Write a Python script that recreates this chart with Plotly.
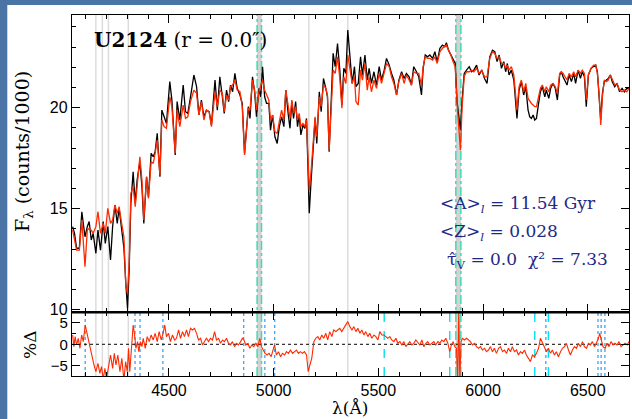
import plotly.graph_objects as go

# ---------------- data ----------------
wave = [4040,4049,4059,4072,4084,4099,4110,4119,4129,4138,
        4151,4161,4173,4186,4196,4208,4221,4231,4242,4253,
        4262,4274,4285,4294,4302,4310,4318,4329,4339,4348,
        4361,4371,4380,4393,4402,4415,4425,4434,4444,4457,
        4466,4477,4488,4504,4514,4530,4539,4552,4568,4579,
        4590,4603,4619,4632,4643,4655,4667,4679,4692,4703,
        4720,4731,4743,4755,4764,4775,4785,4794,4804,4815,
        4826,4839,4850,4861,4871,4879,4887,4899,4909,4918,
        4930,4938,4947,4957,4966,4977,4985,4995,5006,5017,
        5027,5038,5049,5058,5070,5078,5087,5095,5105,5114,
        5122,5130,5140,5149,5157,5165,5170,5178,5189,5198,
        5206,5218,5227,5238,5249,5257,5265,5275,5284,5294,
        5305,5316,5326,5335,5345,5354,5364,5375,5386,5393,
        5404,5415,5424,5436,5447,5456,5467,5479,5491,5504,
        5515,5528,5539,5552,5563,5574,5587,5598,5611,5623,
        5634,5647,5658,5669,5682,5693,5706,5714,5724,5735,
        5746,5759,5770,5781,5794,5806,5817,5825,5835,5846,
        5857,5867,5876,5884,5892,5900,5910,5921,5934,5945,
        5956,5969,5981,5994,6007,6019,6032,6045,6056,6067,
        6077,6088,6099,6108,6116,6124,6135,6147,6156,6162,
        6172,6183,6194,6204,6215,6223,6231,6239,6247,6255,
        6264,6274,6283,6295,6302,6314,6323,6334,6345,6355,
        6366,6374,6382,6392,6401,6411,6422,6433,6442,6454,
        6465,6474,6484,6493,6503,6516,6528,6538,6546,6554,
        6562,6570,6579,6589,6598,6608,6617,6629,6640,6652,
        6664,6675,6686,6697]

observed = [14.11,13.78,13.04,13.04,14.85,13.61,14.11,14.36,13.45,13.78,
            12.79,13.94,12.95,14.36,13.28,14.11,12.46,14.11,15.18,14.27,
            15.02,13.86,13.04,11.30,10.07,11.96,15.26,16.83,15.26,16.42,
            17.33,16.09,14.27,16.58,15.59,17.74,17.57,17.82,18.73,16.58,
            19.88,19.55,19.22,21.29,20.38,17.66,20.30,19.39,21.12,19.80,
            19.72,20.54,21.62,21.04,19.64,20.38,19.55,19.88,19.80,19.14,
            21.37,19.88,21.53,20.54,19.72,20.87,20.30,21.12,20.79,21.70,
            20.96,20.63,20.21,17.74,19.31,20.05,19.47,21.53,20.79,19.55,
            20.96,20.54,22.03,20.54,20.21,20.21,18.89,19.64,18.56,18.23,
            19.06,19.55,19.06,20.87,19.64,18.98,20.30,19.47,20.30,19.06,
            19.64,18.65,19.14,18.98,19.47,16.58,14.77,16.25,17.90,19.47,
            18.23,20.79,19.80,21.45,20.96,20.54,17.82,20.30,22.69,22.03,
            23.18,21.86,20.13,21.95,21.70,23.84,22.36,21.20,22.03,21.04,
            21.20,22.52,21.62,22.61,21.37,21.95,21.20,21.78,21.12,22.03,
            21.37,21.86,22.44,22.11,21.70,21.37,20.63,21.37,21.78,21.45,
            21.70,21.53,21.12,22.03,21.78,21.53,20.63,21.95,22.61,22.52,
            22.61,22.44,22.77,22.28,22.94,23.10,23.02,23.22,22.85,22.61,
            22.36,22.19,20.30,19.72,18.89,20.38,21.70,21.86,22.03,21.78,
            21.86,22.11,21.62,21.86,21.45,21.20,22.52,22.85,22.77,22.28,
            22.61,21.95,22.28,21.78,22.19,21.62,21.86,21.37,20.30,19.47,
            20.87,21.29,20.63,21.04,19.88,19.55,19.47,19.64,19.39,19.47,
            20.13,20.79,21.04,20.54,20.87,20.46,20.96,21.20,20.96,20.38,
            21.62,21.78,21.53,21.29,21.12,21.62,21.29,21.70,21.20,21.86,
            21.45,21.78,21.53,20.05,21.62,21.95,22.03,22.11,21.78,20.79,
            19.39,20.71,21.29,21.37,21.45,21.62,21.29,21.04,21.20,20.79,
            20.96,20.79,20.96,20.96]

model = [13.94,13.45,12.95,12.95,14.44,12.13,13.94,14.03,13.94,13.78,
         14.11,14.85,13.78,14.27,13.78,15.02,14.27,14.44,15.18,14.77,
         15.10,14.27,13.61,11.14,10.81,12.29,15.76,16.09,15.10,16.09,
         17.57,16.42,14.44,16.58,15.51,17.33,17.24,17.74,18.40,16.67,
         19.39,19.06,18.98,20.54,20.05,17.74,19.88,19.06,20.13,19.47,
         19.55,20.30,20.87,20.71,19.64,20.30,19.39,19.88,19.80,19.06,
         20.79,20.05,20.87,20.71,19.80,20.63,20.38,21.04,21.12,21.37,
         20.87,20.79,20.05,17.66,19.22,19.97,19.88,21.37,20.87,19.88,
         20.79,21.04,21.37,20.87,20.63,20.38,19.39,19.64,18.81,18.73,
         19.31,19.88,19.39,20.87,20.05,19.47,20.38,19.72,20.05,19.39,
         19.72,19.06,19.22,19.06,19.39,17.24,15.92,16.75,18.07,19.55,
         18.56,20.54,20.05,21.12,20.96,20.63,17.90,19.88,21.86,21.70,
         22.52,21.45,19.97,21.53,21.20,22.61,21.86,21.20,21.53,20.30,
         20.13,21.86,21.37,22.19,20.87,21.53,20.79,21.37,20.96,21.70,
         21.20,21.70,22.19,22.03,21.53,21.20,20.63,21.29,21.70,21.20,
         21.62,21.37,21.12,21.78,21.70,21.70,21.12,22.03,22.52,22.44,
         22.44,22.36,22.52,22.19,22.77,22.94,23.02,23.10,22.85,22.61,
         22.28,22.03,20.21,19.06,17.90,20.05,21.53,21.78,21.78,21.86,
         21.78,21.95,21.70,21.86,21.53,21.53,22.44,22.77,22.69,22.44,
         22.52,22.19,22.19,21.95,22.11,21.86,22.03,21.62,20.38,19.88,
         21.04,21.37,20.79,21.20,20.46,20.30,20.21,20.13,20.05,20.05,
         20.54,20.96,21.12,20.79,21.04,20.79,21.12,21.20,21.04,20.71,
         21.70,21.78,21.70,21.53,21.37,21.70,21.53,21.78,21.53,21.86,
         21.70,21.86,21.70,20.38,21.62,21.95,22.11,22.11,21.70,20.71,
         19.14,20.54,21.37,21.29,21.37,21.62,21.37,21.12,21.20,20.87,
         20.79,20.87,20.79,20.96]

res_wave = [4040,4046,4052,4059,4067,4075,4083,4091,4100,4107,
            4115,4122,4132,4142,4151,4161,4170,4178,4186,4194,
            4202,4212,4221,4231,4239,4247,4256,4266,4275,4285,
            4293,4301,4307,4313,4321,4329,4336,4342,4350,4356,
            4364,4371,4377,4387,4396,4406,4415,4425,4434,4444,
            4453,4463,4472,4480,4488,4498,4507,4517,4527,4536,
            4546,4555,4565,4574,4584,4593,4603,4612,4622,4632,
            4641,4651,4660,4670,4679,4689,4698,4708,4718,4727,
            4737,4746,4756,4765,4775,4784,4794,4803,4813,4823,
            4832,4842,4851,4858,4867,4877,4886,4896,4905,4915,
            4924,4934,4942,4950,4959,4969,4978,4988,4998,5004,
            5013,5023,5033,5042,5052,5061,5071,5080,5090,5099,
            5109,5118,5128,5138,5147,5157,5165,5173,5182,5192,
            5201,5211,5220,5230,5239,5249,5258,5268,5278,5287,
            5297,5306,5316,5325,5335,5344,5354,
            5364,5374,5383,5393,5402,5412,5421,5431,5440,5450,
            5459,5469,5479,5488,5498,5507,5517,5526,5536,5545,
            5555,5564,5574,5584,5593,5603,5612,5622,5631,5641,
            5650,5660,5669,5679,5689,5698,5708,5717,5727,5736,
            5746,5755,5765,5774,5784,5794,5803,5813,5822,5832,
            5841,5849,5857,5865,5873,5879,5884,5889,5895,5902,
            5911,5921,5930,5940,5949,5959,5969,5978,5988,5997,
            6007,6016,6026,6035,6045,6054,6064,6074,6083,6093,
            6102,6112,6121,6131,6140,6150,6160,6169,6179,6188,
            6198,6207,6217,6226,6236,6245,6255,6265,6274,6284,
            6293,6303,6312,6322,6331,6341,6350,6360,6370,6379,
            6389,6398,6408,6417,6427,6436,6446,6455,6465,6475,
            6484,6494,6503,6513,6522,6532,6541,6551,6557,6565,
            6573,6583,6592,6602,6611,6621,6630,6640,6649,6659,
            6669,6678,6688,6697]

residual = [2.18,-0.55,1.79,-0.16,1.40,-0.94,2.18,0.62,4.52,2.96,
            0.62,-0.94,-2.90,-4.85,-6.41,-4.46,-6.80,-5.24,-8.2,-5.63,
            -8.0,-4.46,-2.51,-5.63,-2.12,-4.85,-2.51,-6.41,-3.29,-8.5,
            -4.07,-6.41,-0.94,-6.41,-1.73,4.52,2.18,-0.94,0.62,-1.73,
            0.62,-0.55,1.40,-0.94,1.79,0.62,2.18,1.01,2.57,0.62,
            2.96,1.01,2.57,4.52,1.79,2.57,0.62,2.18,1.01,1.40,
            3.35,1.40,2.96,1.79,3.35,1.79,3.74,3.35,3.74,2.57,
            1.01,1.40,-0.16,0.62,1.40,0.62,1.40,1.01,2.96,1.01,
            1.40,0.23,1.01,0.62,1.40,0.23,-0.16,0.62,-0.55,0.23,
            -0.16,0.62,1.40,1.01,-0.16,0.23,-0.94,-0.16,-0.55,0.23,
            -0.55,1.40,-0.55,-1.34,-2.12,-2.51,-2.12,-2.90,-0.94,-0.16,
            -2.51,-1.73,-2.90,-2.12,-2.51,-1.73,-2.12,-1.34,-2.12,-1.73,
            -1.34,-2.12,-1.73,-2.12,-1.73,-2.51,-6.41,-4.85,-3.29,0.62,
            1.40,1.79,1.01,2.18,1.40,2.57,1.01,2.96,1.79,3.35,
            2.96,3.35,3.74,2.96,3.74,4.52,5.30,
            4.13,3.35,4.13,2.96,3.74,2.57,3.35,2.18,2.96,1.79,
            2.57,1.40,2.18,1.79,1.01,2.96,2.18,2.18,1.79,1.40,
            1.79,1.01,0.62,1.40,0.23,0.62,-0.16,0.62,-0.55,0.23,
            0.62,-0.16,0.23,1.01,0.23,-0.16,1.01,-0.55,0.23,0.62,
            -0.16,0.23,0.62,-0.16,0.62,0.23,1.01,0.62,1.40,0.23,
            -1.73,-0.16,0.62,-0.55,-0.94,-8.5,8.0,-8.5,0.62,1.40,
            1.01,1.40,1.01,0.62,-0.16,0.23,-0.55,-0.94,-0.55,-1.34,
            -0.94,-1.73,-1.34,-0.55,-1.73,-0.94,-2.12,-0.94,-0.55,-1.73,
            -1.34,-2.12,-0.94,-1.73,-0.55,-1.73,-1.34,-2.51,-1.73,-2.12,
            -1.34,-2.51,-3.29,-4.07,-2.51,-2.90,-2.12,-0.94,1.40,0.23,
            -0.55,-1.73,-0.94,-2.12,-1.34,-2.51,-1.73,-2.90,-1.73,-0.94,
            -0.55,0.23,-1.34,-2.51,-1.34,-0.55,-0.94,0.23,-0.55,0.62,
            -0.55,-0.94,0.23,-0.16,0.62,-0.55,0.23,1.40,2.57,0.62,
            -0.55,-0.94,0.23,-0.55,0.62,-0.16,0.23,-0.16,0.62,-0.55,
            -0.16,0.23,-0.16,0.62]

masked_lines = [4151, 4182, 4211, 4306, 5168, 5354]          # grey vertical lines
flagged_bands = [(4921, 4942), (5870, 5894)]                 # grey bands with teal edges
emission_lines = [4100, 4338, 4362, 4471, 4857, 4958, 5005, 6300, 6549, 6564, 6582]
sky_lines = [5528, 5841, 6247, 6312]

x_ticks = [4500, 5000, 5500, 6000, 6500]
main_ticks = [10, 15, 20]
res_ticks = [-5, 0, 5]

title_text = "<b>U2124</b> (r = 0.0″)"
info_lines = ["&lt;A&gt;<sub><i>l</i></sub> = 11.54 Gyr",
              "&lt;Z&gt;<sub><i>l</i></sub> = 0.028",
              "τ̂<sub>V</sub> = 0.0  χ² = 7.33"]

# ---------------- figure ----------------
W, H = 632, 419
ML, MR, MT, MB = 72, 3, 15, 43
split = 0.1765
RED = "#ff2a00"
NAVY = "#1f2a85"
TEAL = "#3ddcb0"

fig = go.Figure()
fig.add_trace(go.Scatter(x=wave, y=observed, mode="lines", xaxis="x2", yaxis="y",
                         line=dict(color="black", width=1.3), showlegend=False))
fig.add_trace(go.Scatter(x=wave, y=model, mode="lines", xaxis="x2", yaxis="y",
                         line=dict(color=RED, width=1.3), showlegend=False))
fig.add_trace(go.Scatter(x=res_wave, y=residual, mode="lines", xaxis="x", yaxis="y2",
                         line=dict(color=RED, width=1.1), showlegend=False))

shapes = []
for w in masked_lines:
    shapes.append(dict(type="line", xref="x", yref="paper", x0=w, x1=w, y0=0, y1=1,
                       line=dict(color="#dcdcdc", width=1.5), layer="below"))
for a, b in flagged_bands:
    shapes.append(dict(type="rect", xref="x", yref="paper", x0=a, x1=b, y0=0, y1=1,
                       fillcolor="#d2d2d2", line=dict(width=0), layer="below"))
    for w in (a, b):
        shapes.append(dict(type="line", xref="x", yref="paper", x0=w, x1=w, y0=0, y1=1,
                           line=dict(color=TEAL, width=1.5, dash="dashdot"), layer="below"))
for w in emission_lines:
    shapes.append(dict(type="line", xref="x", yref="y2 domain", x0=w, x1=w, y0=0, y1=1,
                       line=dict(color="#2a9df4", width=1.2, dash="dot"), layer="below"))
for w in sky_lines:
    shapes.append(dict(type="line", xref="x", yref="y2 domain", x0=w, x1=w, y0=0, y1=1,
                       line=dict(color="#00e0f0", width=1.4, dash="dash"), layer="below"))
# zero line of residual panel
shapes.append(dict(type="line", xref="paper", yref="y2", x0=0, x1=1, y0=0, y1=0,
                   line=dict(color="black", width=1, dash="dot"), layer="below"))
# thick separator between panels
shapes.append(dict(type="line", xref="paper", yref="paper", x0=0, x1=1, y0=split, y1=split,
                   line=dict(color="black", width=2.4)))
# blue page border (left and top)
pw = W - ML - MR
ph = H - MT - MB
shapes.append(dict(type="rect", xref="paper", yref="paper",
                   x0=-ML / pw - 0.01, x1=(7.3 - ML) / pw, y0=-MB / ph - 0.02, y1=1 + MT / ph + 0.02,
                   fillcolor="#4a74a5", line=dict(width=0)))
shapes.append(dict(type="rect", xref="paper", yref="paper",
                   x0=-ML / pw - 0.01, x1=1 + MR / pw + 0.01, y0=(H - MB - 5) / ph, y1=1 + MT / ph + 0.02,
                   fillcolor="#4a74a5", line=dict(width=0)))

tickfont = dict(family="Liberation Sans, Arial, sans-serif", size=16, color="black")
tickfont_res = dict(family="Liberation Sans, Arial, sans-serif", size=15, color="black")
common_x = dict(range=[4037, 6697], ticks="inside", ticklen=8, tickwidth=1.2, tickcolor="black",
                showline=True, linecolor="black", linewidth=1.4, mirror="ticks",
                showgrid=False, zeroline=False, tickvals=x_ticks,
                minor=dict(ticks="inside", ticklen=4, tickwidth=1.1, tickcolor="black",
                           dtick=100, tick0=4000, showgrid=False))

annotations = [
    dict(text=title_text, xref="paper", yref="paper", x=(92 - ML) / pw, y=(H - MB - 40) / ph,
         xanchor="left", yanchor="middle", showarrow=False,
         font=dict(family="DejaVu Serif, serif", size=20, color="black")),
    dict(text="F<sub>λ</sub> (counts/1000)", xref="paper", yref="paper",
         x=(23 - ML) / pw, y=(H - MB - 152) / ph, textangle=-90, showarrow=False,
         xanchor="center", yanchor="middle",
         font=dict(family="DejaVu Serif, serif", size=19, color="black")),
    dict(text="%Δ", xref="paper", yref="paper",
         x=(30 - ML) / pw, y=(H - MB - 345) / ph, textangle=-90, showarrow=False,
         xanchor="center", yanchor="middle",
         font=dict(family="DejaVu Serif, serif", size=17, color="black")),
    dict(text="λ(Å)", xref="paper", yref="paper",
         x=(350 - ML) / pw, y=(H - MB - 408) / ph, showarrow=False,
         xanchor="center", yanchor="middle",
         font=dict(family="DejaVu Serif, serif", size=17, color="black")),
]
info_pos = [(438, 204), (438, 232), (445, 260)]
for txt, (px, py) in zip(info_lines, info_pos):
    annotations.append(dict(text=txt, xref="paper", yref="paper",
                            x=(px - ML) / pw, y=(H - MB - py) / ph,
                            xanchor="left", yanchor="middle", showarrow=False,
                            font=dict(family="DejaVu Serif, serif", size=17, color=NAVY)))

fig.update_layout(
    width=W, height=H,
    margin=dict(l=ML, r=MR, t=MT, b=MB, pad=0),
    paper_bgcolor="white", plot_bgcolor="white",
    showlegend=False,
    xaxis=dict(domain=[0, 1], anchor="y2", tickfont=tickfont, ticktext=[str(v) for v in x_ticks],
               **common_x),
    xaxis2=dict(domain=[0, 1], anchor="y", matches="x", showticklabels=False, **common_x),
    yaxis=dict(domain=[split, 1], anchor="x2", range=[9.87, 24.59],
               tickvals=main_ticks, ticks="inside", ticklen=8, tickwidth=1.2, tickcolor="black",
               showline=True, linecolor="black", linewidth=1.4, mirror="ticks",
               showgrid=False, zeroline=False, tickfont=tickfont,
               minor=dict(ticks="inside", ticklen=4, tickwidth=1.1, tickcolor="black",
                          dtick=1, tick0=0, showgrid=False)),
    yaxis2=dict(domain=[0, split], anchor="x", range=[-7.42, 7.49],
                tickvals=res_ticks, ticktext=["−5", "0", "5"],
                ticks="inside", ticklen=8, tickwidth=1.2, tickcolor="black",
                showline=True, linecolor="black", linewidth=1.4, mirror="ticks",
                showgrid=False, zeroline=False, tickfont=tickfont_res,
                minor=dict(ticks="inside", ticklen=4, tickwidth=1.1, tickcolor="black",
                           dtick=2.5, tick0=0, showgrid=False)),
    shapes=shapes,
    annotations=annotations,
)

fig.write_html("out.html")
